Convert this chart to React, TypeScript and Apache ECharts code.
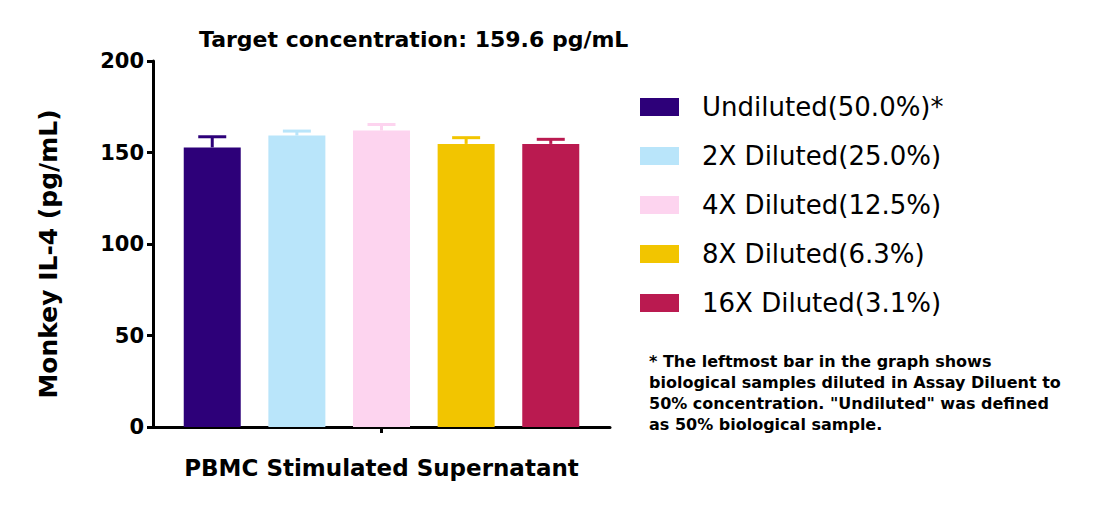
import React, { useEffect, useRef } from "react";
import * as echarts from "echarts";

const seriesNames = [
  "Undiluted(50.0%)*",
  "2X Diluted(25.0%)",
  "4X Diluted(12.5%)",
  "8X Diluted(6.3%)",
  "16X Diluted(3.1%)",
];
const meanValues = [152.8, 159.3, 162.0, 154.7, 154.7];
const upperValues = [158.6, 161.7, 165.3, 158.1, 157.2];
const colors = ["#2D0079", "#B9E5FA", "#FDD4EF", "#F2C500", "#BA1A50"];
const yTicks = { min: 0, max: 200, interval: 50 };
const categoryLabel = "PBMC Stimulated Supernatant";
const titleText = "Target concentration: 159.6 pg/mL";
const yName = "Monkey IL-4 (pg/mL)";
const noteLines = [
  "* The leftmost bar in the graph shows",
  "biological samples diluted in Assay Diluent to",
  '50% concentration. "Undiluted" was defined',
  "as 50% biological sample.",
];

const FONT = '"DejaVu Sans", "Liberation Sans", Arial, sans-serif';

export default function App() {
  const ref = useRef<HTMLDivElement>(null);
  useEffect(() => {
    document.body.style.margin = "0";
    const chart = echarts.init(ref.current!, null, { renderer: "svg" });
    const barSeries = seriesNames.map((name, i) => ({
      name,
      type: "bar",
      xAxisIndex: 0,
      yAxisIndex: 0,
      barWidth: 57,
      barGap: "-100%",
      itemStyle: { color: colors[i] },
      data: [[i, meanValues[i]]],
      z: 2,
    }));
    const errData = meanValues.map((v, i) => [i, v, upperValues[i]]);
    const option: any = {
      animation: false,
      backgroundColor: "#ffffff",
      title: {
        text: titleText,
        left: 194,
        top: 23,
        textStyle: { fontFamily: FONT, fontWeight: "bold", fontSize: 22, color: "#000" },
      },
      grid: { left: 153, right: 490, top: 61, bottom: 80 },
      legend: {
        orient: "vertical",
        left: 640,
        top: 94,
        padding: 0,
        icon: "rect",
        itemWidth: 39,
        itemHeight: 18,
        itemGap: 23,
        selectedMode: false,
        data: seriesNames,
        textStyle: {
          fontFamily: FONT,
          fontSize: 26,
          lineHeight: 26,
          color: "#000",
          padding: [0, 0, 0, 18],
        },
      },
      xAxis: [
        {
          type: "value",
          min: -0.7,
          max: 4.7,
          show: false,
          position: "bottom",
        },
        {
          type: "category",
          data: [""],
          position: "bottom",
          boundaryGap: true,
          axisLine: { show: true, onZero: false, lineStyle: { color: "#000", width: 3 } },
          axisTick: { show: true, alignWithLabel: true, length: 6, lineStyle: { color: "#000", width: 3 } },
          axisLabel: { show: false },
          splitLine: { show: false },
          name: categoryLabel,
          nameLocation: "middle",
          nameGap: 29,
          nameTextStyle: { fontFamily: FONT, fontWeight: "bold", fontSize: 23, color: "#000" },
        },
      ],
      yAxis: {
        type: "value",
        min: yTicks.min,
        max: yTicks.max,
        interval: yTicks.interval,
        axisLine: { show: true, onZero: false, lineStyle: { color: "#000", width: 3 } },
        axisTick: { show: true, length: 6, lineStyle: { color: "#000", width: 3 } },
        axisLabel: { fontFamily: FONT, fontWeight: "bold", fontSize: 21, color: "#000", margin: 9 },
        splitLine: { show: false },
        name: yName,
        nameLocation: "middle",
        nameGap: 92,
        nameRotate: 90,
        nameTextStyle: {
          fontFamily: FONT,
          fontWeight: "bold",
          fontSize: 25,
          color: "#000",
          padding: [0, 20, 0, 0],
        },
      },
      graphic: [
        {
          type: "text",
          left: 649,
          top: 351,
          style: {
            text: noteLines.join("\n"),
            font: `bold 16px ${FONT}`,
            lineHeight: 21,
            fill: "#000",
          },
        },
      ],
      series: [
        ...barSeries,
        {
          type: "custom",
          name: "error",
          xAxisIndex: 0,
          yAxisIndex: 0,
          z: 3,
          data: errData,
          renderItem: (params: any, api: any) => {
            const x = api.value(0);
            const base = api.coord([x, api.value(1)]);
            const top = api.coord([x, api.value(2)]);
            const c = colors[params.dataIndex];
            const half = 14;
            return {
              type: "group",
              children: [
                {
                  type: "line",
                  shape: { x1: base[0], y1: base[1], x2: top[0], y2: top[1] },
                  style: { stroke: c, lineWidth: 3 },
                },
                {
                  type: "line",
                  shape: { x1: top[0] - half, y1: top[1], x2: top[0] + half, y2: top[1] },
                  style: { stroke: c, lineWidth: 3 },
                },
              ],
            };
          },
        },
      ],
    };
    chart.setOption(option);
    return () => chart.dispose();
  }, []);
  return (
    <div
      ref={ref}
      style={{ position: "absolute", left: 0, top: 0, width: 1100, height: 507 }}
    />
  );
}
